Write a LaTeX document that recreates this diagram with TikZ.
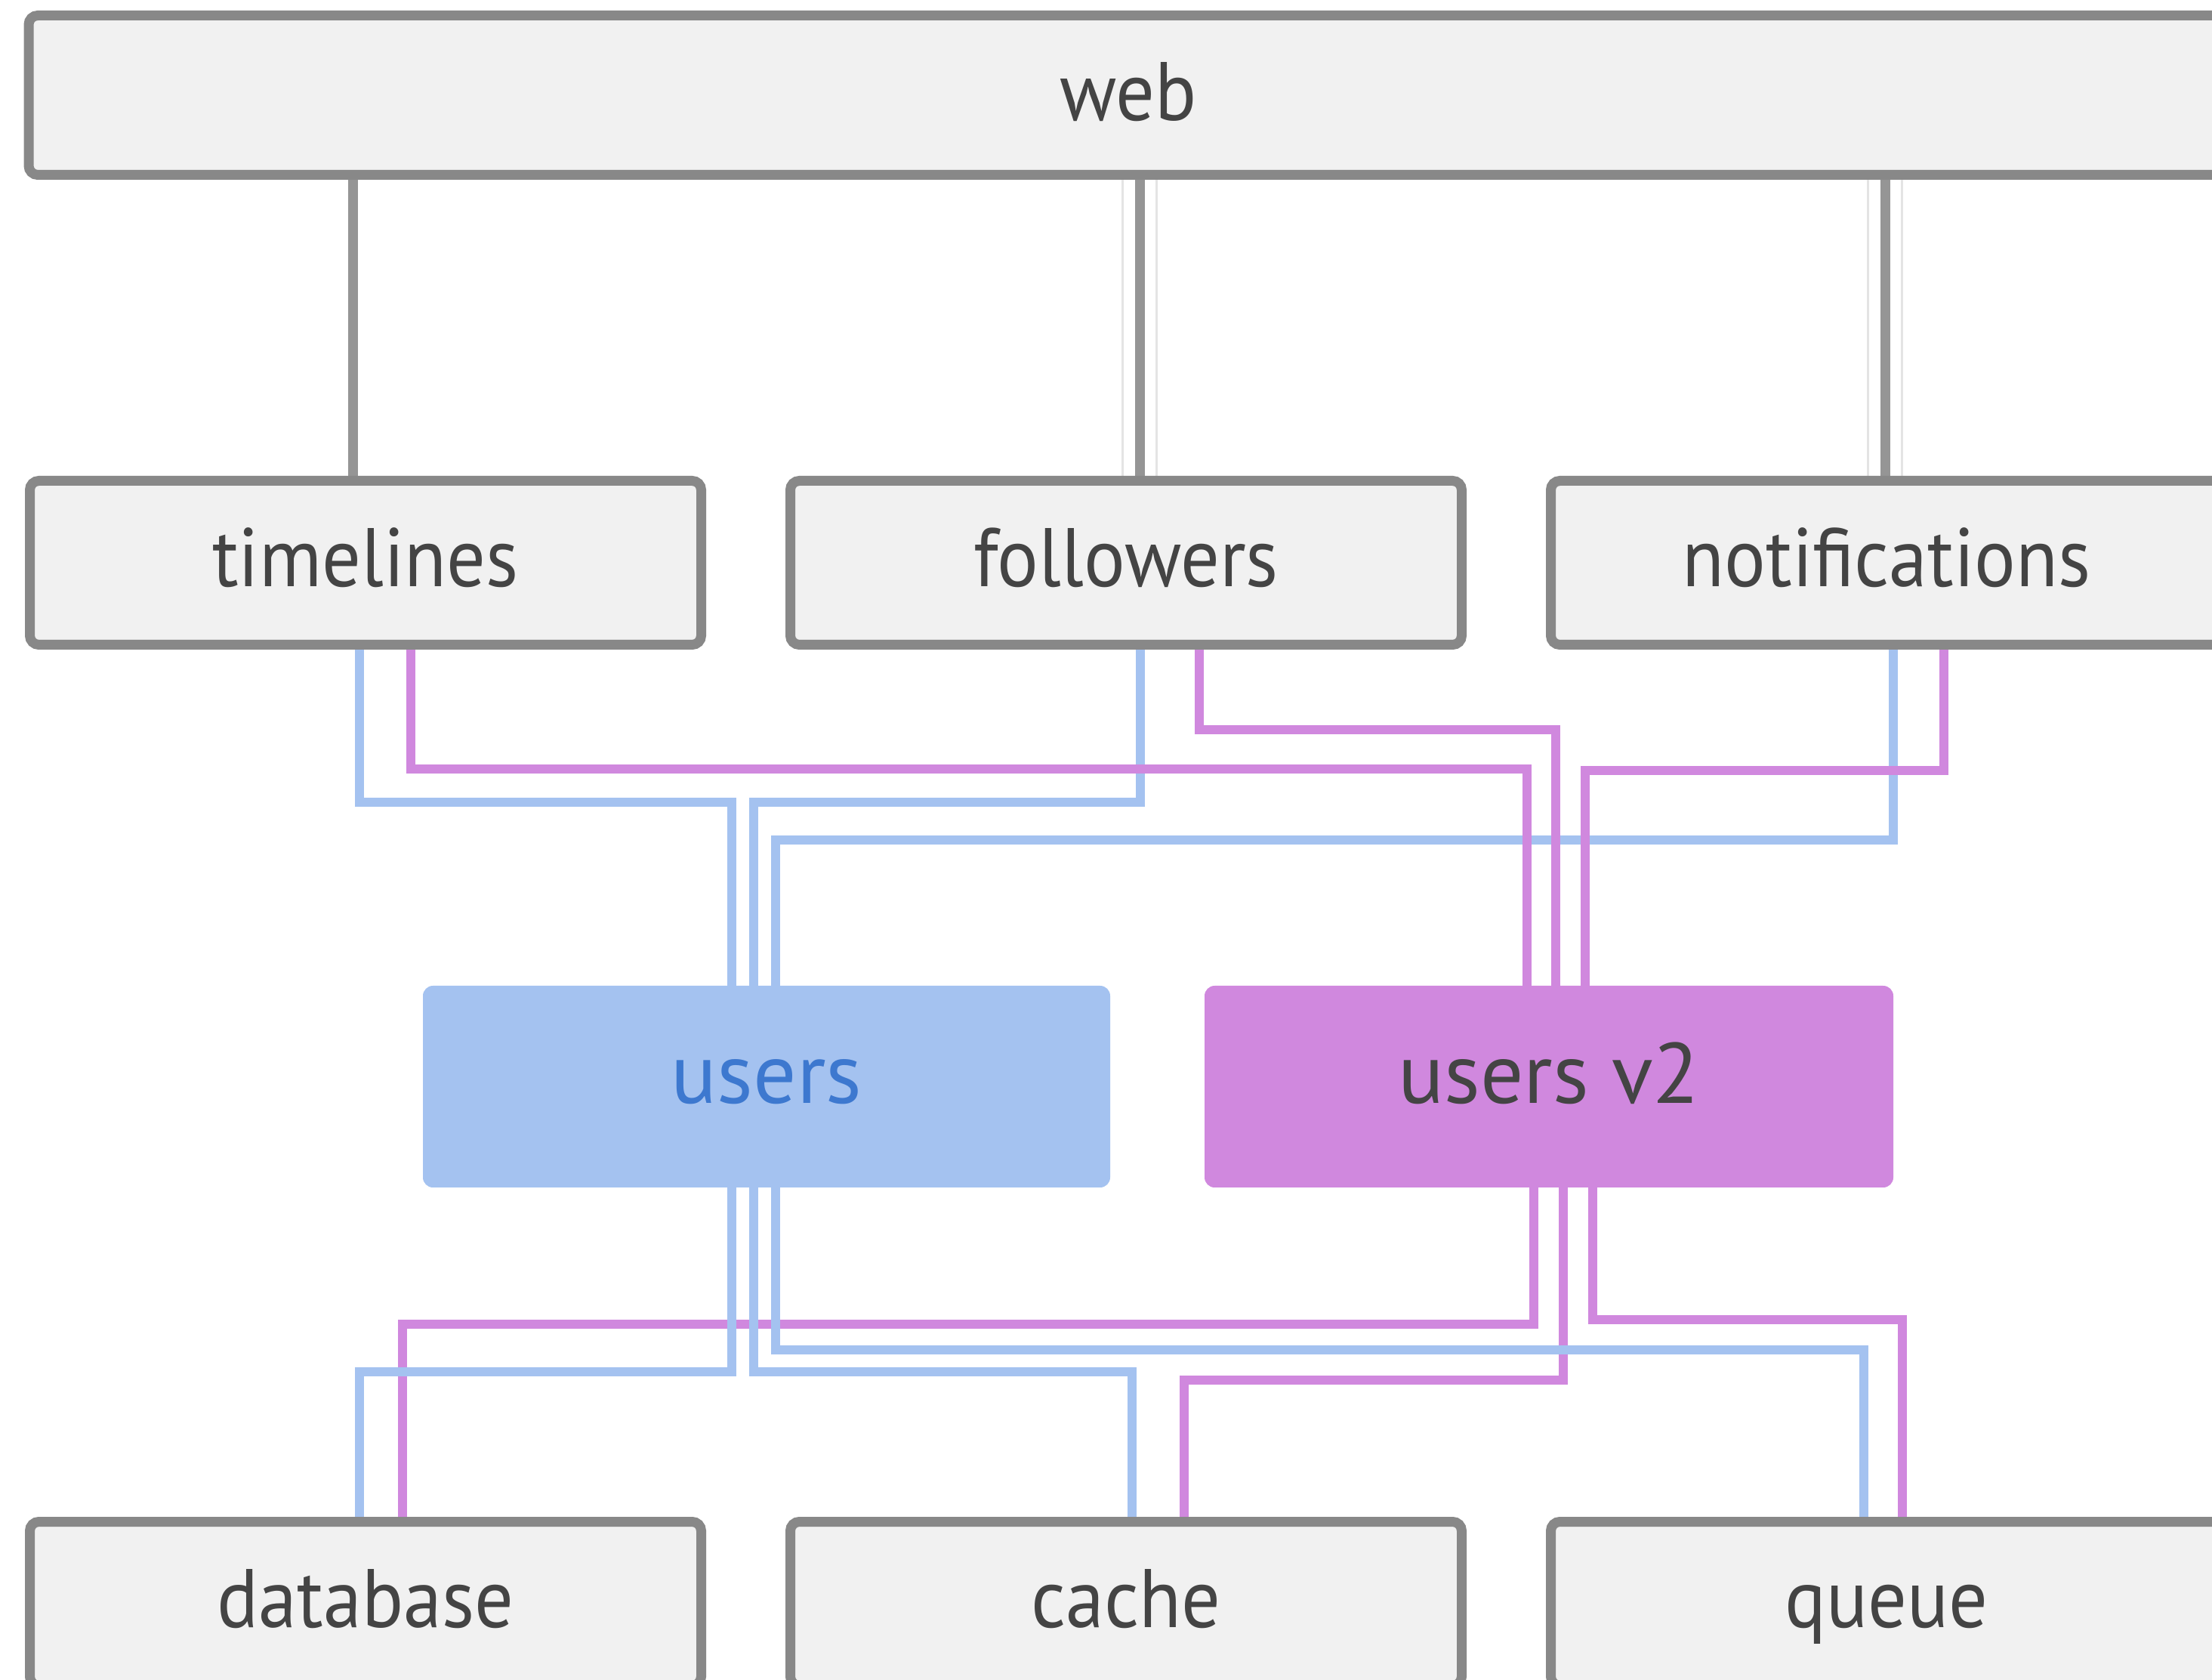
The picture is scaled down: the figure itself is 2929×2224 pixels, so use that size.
\documentclass[tikz,border=0pt]{standalone}
\usepackage{fontspec}
\setmainfont{PT Sans}[FakeStretch=0.93]
\newfontfamily\widefont{PT Sans}
\definecolor{boxfill}{HTML}{F1F1F1}
\definecolor{boxline}{HTML}{888888}
\definecolor{txt}{HTML}{444444}
\definecolor{ublue}{HTML}{A4C2F0}
\definecolor{ubluetxt}{HTML}{3D78CF}
\definecolor{upink}{HTML}{D088DE}
\definecolor{wire}{HTML}{959595}
\definecolor{halo}{HTML}{E4E4E4}
\pgfdeclarelayer{bg}
\pgfsetlayers{bg,main}
\tikzset{
  lbl/.style={inner sep=0pt, outer sep=0pt, text height=19pt, text depth=0pt,
    font=\fontsize{33}{38}\selectfont},
  svc/.style={lbl, draw=boxline, line width=3.9pt, fill=boxfill, rounded corners=3.6pt,
    minimum width=266.7pt, minimum height=65.1pt, text=txt},
  usrbase/.style={lbl, rounded corners=4pt, minimum height=80.1pt, text height=13pt,
    font=\widefont\fontsize{34}{40}\selectfont},
  usr/.style={usrbase, fill=ublue, minimum width=273pt, text=ubluetxt},
  usrtwo/.style={usrbase, fill=upink, minimum width=273.6pt, text=txt},
  grayline/.style={draw=wire, line width=3.9pt},
  halobg/.style={draw=halo, line width=14.4pt},
  haloin/.style={draw=white, line width=12.6pt},
  blueline/.style={draw=ublue, line width=3.6pt, miter limit=10},
  pinkline/.style={draw=upink, line width=3.6pt, miter limit=10}
}
\begin{document}
\begin{tikzpicture}[x=0.3pt,y=-0.3pt]
\useasboundingbox (0,0) rectangle (2929,2224);
\clip (0,0) rectangle (2929,2224);

\node[svc, minimum width=873.6pt, minimum height=63.3pt, text height=20pt] (web) at (1494,126) {web};
\node[svc] (timelines) at (484,745) {timelines};
\node[svc] (followers) at (1491,745) {followers};
\node[svc] (notifications) at (2498,745) {notifications};
\node[usr] (users) at (1015,1438.5) {users};
\node[usrtwo] (usersv2) at (2051,1438.5) {users v2};
\node[svc] (database) at (484,2123) {database};
\node[svc] (cache) at (1491,2123) {cache};
\node[svc] (queue) at (2498,2123) {queue};

\begin{pgfonlayer}{bg}
\fill[white] (0,0) rectangle (2929,2224);
% web connectors
\draw[grayline] (web.south -| 467,0) -- (timelines.north -| 467,0);
\draw[halobg] (web.south -| 1509,0) -- (followers.north -| 1509,0);
\draw[haloin] (web.south -| 1509,0) -- (followers.north -| 1509,0);
\draw[grayline] (web.south -| 1509,0) -- (followers.north -| 1509,0);
\draw[halobg] (web.south -| 2496,0) -- (notifications.north -| 2496,0);
\draw[haloin] (web.south -| 2496,0) -- (notifications.north -| 2496,0);
\draw[grayline] (web.south -| 2496,0) -- (notifications.north -| 2496,0);

% upper blue
\draw[blueline] (timelines.south -| 476,0) |- (969,1062) -- (users.north -| 969,0);
\draw[blueline] (followers.south -| 1510,0) |- (998,1062) -- (users.north -| 998,0);
\draw[blueline] (notifications.south -| 2507,0) |- (1027,1112) -- (users.north -| 1027,0);
% upper pink
\draw[pinkline] (timelines.south -| 544,0) |- (2022,1018) -- (usersv2.north -| 2022,0);
\draw[pinkline] (followers.south -| 1588,0) |- (2060,966) -- (usersv2.north -| 2060,0);
\draw[pinkline] (notifications.south -| 2574,0) |- (2099,1020) -- (usersv2.north -| 2099,0);

% lower pink
\draw[pinkline] (usersv2.south -| 2031,0) |- (533,1753) -- (database.north -| 533,0);
\draw[pinkline] (usersv2.south -| 2070,0) |- (1568,1827) -- (cache.north -| 1568,0);
\draw[pinkline] (usersv2.south -| 2109,0) |- (2519,1747) -- (queue.north -| 2519,0);
% lower blue
\draw[blueline] (users.south -| 969,0) |- (476,1816) -- (database.north -| 476,0);
\draw[blueline] (users.south -| 998,0) |- (1499,1816) -- (cache.north -| 1499,0);
\draw[blueline] (users.south -| 1027,0) |- (2468,1787) -- (queue.north -| 2468,0);
\end{pgfonlayer}
\end{tikzpicture}
\end{document}
